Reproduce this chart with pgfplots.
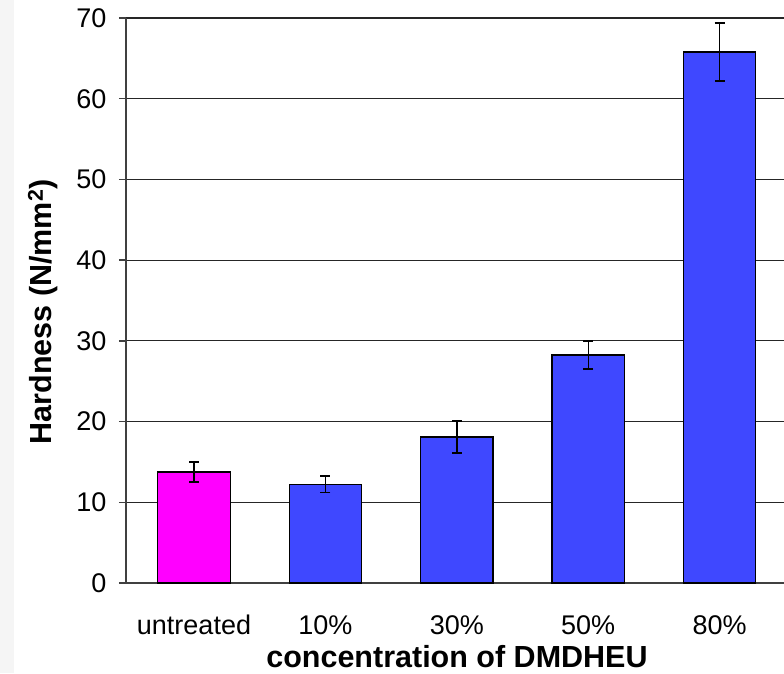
\documentclass[border=0pt]{standalone}
\usepackage{fontspec}
\setmainfont{Liberation Sans}
\usepackage{pgfplots}
\pgfplotsset{compat=1.18}
\definecolor{barblue}{RGB}{63,72,255}
\definecolor{barmag}{RGB}{255,0,255}
\definecolor{axgray}{RGB}{64,64,64}
\begin{document}
\begin{tikzpicture}[x=1pt,y=1pt]
\useasboundingbox (0,0) rectangle (784,673);
\fill[white] (0,0) rectangle (784,673);
\fill[black!4] (0,0) rectangle (14,673);
\begin{axis}[
  at={(126pt,90pt)}, anchor=south west,
  scale only axis, width=658pt, height=565pt,
  xmin=-0.5175, xmax=4.49, ymin=0, ymax=70,
  ytick={0,10,...,70},
  xtick={0,1,2,3,4},
  xticklabels={untreated,10\%,30\%,50\%,80\%},
  axis x line*=bottom, axis y line*=left,
  axis line style={axgray, line width=1.6pt},
  ymajorgrids, grid style={black!85, line width=1.2pt},
  tick align=outside,
  y tick style={axgray, line width=1.4pt},
  major tick length=7pt,
  x tick style={draw=none},
  /pgf/number format/assume math mode=true,
  tick label style={font=\fontsize{27}{32}\selectfont, black},
  xticklabel style={anchor=base, yshift=-44pt},
  yticklabel style={xshift=-9pt},
  xlabel={concentration of DMDHEU},
  ylabel={Hardness (N/mm\textsuperscript{2})},
  every axis x label/.style={at={(axis description cs:0.503,-0.150)}, anchor=base,
    font=\fontsize{30.5}{35}\selectfont\bfseries},
  every axis y label/.style={at={(axis description cs:-0.126,0.48)}, rotate=90, anchor=center,
    font=\fontsize{30.5}{35}\selectfont\bfseries},
  ybar, bar width=0.552, bar shift=0pt,
]
\addplot[fill=barmag, draw=black, line width=1.2pt,
  error bars/.cd, y dir=both, y explicit,
  error bar style={black, line width=1.4pt},
  error mark options={rotate=90, mark size=5pt, black, line width=1.4pt}]
  coordinates {(0,13.75) +- (0,1.23)};
\addplot[fill=barblue, draw=black, line width=1.2pt,
  error bars/.cd, y dir=both, y explicit,
  error bar style={black, line width=1.4pt},
  error mark options={rotate=90, mark size=5pt, black, line width=1.4pt}]
  coordinates {
    (1,12.23) +- (0,1.05)
    (2,18.09) +- (0,1.98)
    (3,28.25) +- (0,1.75)
    (4,65.8) +- (0,3.58)
  };
\end{axis}
\end{tikzpicture}
\end{document}
